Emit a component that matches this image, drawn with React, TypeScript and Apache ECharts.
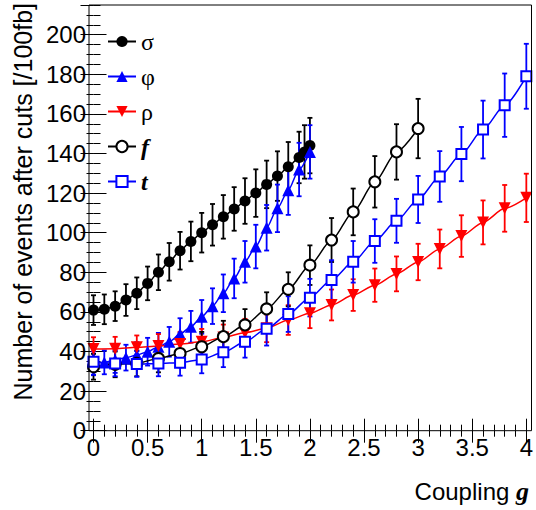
import React, { useEffect, useRef } from 'react';
import * as echarts from 'echarts';

// Coupling values
const gSigma = [0, 0.1, 0.2, 0.3, 0.4, 0.5, 0.6, 0.7, 0.8, 0.9, 1.0, 1.1, 1.2, 1.3, 1.4, 1.5, 1.6, 1.7, 1.8, 1.9, 1.95, 2.0];
const gPhi = [0, 0.1, 0.2, 0.3, 0.4, 0.5, 0.6, 0.7, 0.8, 0.9, 1.0, 1.1, 1.2, 1.3, 1.4, 1.5, 1.6, 1.7, 1.8, 1.9, 2.0];
const gRhoT = [0, 0.2, 0.4, 0.6, 0.8, 1.0, 1.2, 1.4, 1.6, 1.8, 2.0, 2.2, 2.4, 2.6, 2.8, 3.0, 3.2, 3.4, 3.6, 3.8, 4.0];
const gF = [0, 0.2, 0.4, 0.6, 0.8, 1.0, 1.2, 1.4, 1.6, 1.8, 2.0, 2.2, 2.4, 2.6, 2.8, 3.0];

// Events after cuts
const sigmaVals = [60.9, 61.3, 62.9, 66, 69.4, 74.4, 80, 85.3, 90.9, 95.6, 100, 104, 108, 112, 116, 120, 124.4, 128.6, 133.3, 138, 140.8, 144];
const sigmaErr = [7.5, 7.5, 7.5, 8, 8, 8.5, 9, 9.5, 9.5, 10, 10, 10.5, 11, 11, 11.5, 12, 12, 12.5, 12.5, 13, 13.5, 14];
const phiVals = [34, 34.5, 35.7, 36.9, 38.2, 39.9, 42.4, 44.9, 48.8, 52.5, 57.5, 62.9, 69.4, 76.9, 85.3, 93, 102.5, 112.3, 121.5, 131.9, 140.8];
const phiErr = [6, 6, 6.5, 6.5, 6.5, 7, 7, 7.5, 8, 8, 8.5, 9, 9.5, 10, 10.5, 11, 11.5, 12, 12.5, 13.5, 13.5];
const rhoVals = [41.2, 41.4, 42.1, 42.8, 43.8, 44.9, 47.1, 49.5, 51.7, 55.9, 59.3, 63.5, 68.5, 73.5, 79.2, 85.2, 91.8, 98.3, 105.2, 112.3, 117.6];
const rhoErr = [6, 6, 6, 6, 6, 6.5, 6.5, 7, 7, 7.5, 7.5, 7.8, 8, 8.4, 8.8, 9.2, 9.8, 10.5, 11.1, 11.8, 12.2];
const fVals = [32.3, 33.5, 34, 36.5, 39, 42.4, 47.5, 53.4, 61.5, 71.4, 83.6, 96.3, 110.5, 125.7, 140.8, 152.6];
const fErr = [6.5, 6.5, 6.5, 7, 7, 7.5, 8, 8, 8.4, 8.6, 10, 11.1, 11.8, 13, 14, 15];
const tVals = [34.8, 34, 33.7, 34, 34.3, 36, 39.6, 44.9, 51.5, 58.9, 67.2, 76.1, 85.3, 95.8, 106, 116.8, 128.4, 139.7, 152.1, 164.4, 179];
const tErr = [6.5, 6.5, 6.5, 6.5, 6.5, 7, 7.5, 8, 8.5, 9, 9.5, 10, 10.5, 11, 11.1, 11.9, 12.8, 13.7, 14.6, 16, 16.4];

const BLACK = '#000000';
const BLUE = '#0000ff';
const RED = '#ff0000';

function pairs(xs: number[], ys: number[]) {
  return xs.map((x, i) => [x, ys[i]]);
}
function triples(xs: number[], ys: number[], es: number[]) {
  return xs.map((x, i) => [x, ys[i], es[i]]);
}

function errRender(color: string) {
  return (params: any, api: any) => {
    const x = api.value(0);
    const y = api.value(1);
    const e = api.value(2);
    const top = api.coord([x, y + e]);
    const bot = api.coord([x, y - e]);
    const hw = 2.5;
    const style = { stroke: color, lineWidth: 1.8, fill: 'none' };
    return {
      type: 'group',
      children: [
        { type: 'line', shape: { x1: top[0], y1: top[1], x2: bot[0], y2: bot[1] }, style },
        { type: 'line', shape: { x1: top[0] - hw, y1: top[1], x2: top[0] + hw, y2: top[1] }, style },
        { type: 'line', shape: { x1: bot[0] - hw, y1: bot[1], x2: bot[0] + hw, y2: bot[1] }, style },
      ],
    };
  };
}

const SANS = 'Liberation Sans, Arial, Helvetica, sans-serif';
const SERIF = 'Liberation Serif, Times New Roman, serif';

export default function App() {
  const ref = useRef<HTMLDivElement>(null);
  useEffect(() => {
    if (!ref.current) return;
    const chart = echarts.init(ref.current, undefined, { renderer: 'svg' });

    const xBase = {
      type: 'value',
      min: 0,
      max: 4,
      splitLine: { show: false },
      axisLine: { show: false },
    };
    const yBase = {
      type: 'value',
      min: 0,
      max: 215,
      splitLine: { show: false },
      axisLine: { show: false },
    };
    const tickStyle = { color: BLACK, width: 1 };

    const mkLine = (name: string, xs: number[], ys: number[], color: string, symbol: string, size: number, rotate = 0, empty = false) => ({
      name,
      type: 'line',
      data: pairs(xs, ys),
      smooth: 0.25,
      smoothMonotone: 'x',
      symbol,
      symbolSize: size,
      symbolRotate: rotate,
      showAllSymbol: true,
      lineStyle: { color, width: 1.5 },
      itemStyle: { color, borderWidth: empty ? 1.1 : 0, borderColor: color },
      z: 3,
      xAxisIndex: 0,
      yAxisIndex: 0,
      emphasis: { disabled: true },
    });
    const mkErr = (name: string, xs: number[], ys: number[], es: number[], color: string) => ({
      name,
      type: 'custom',
      data: triples(xs, ys, es),
      renderItem: errRender(color),
      encode: { x: 0, y: 1 },
      z: 2,
      xAxisIndex: 0,
      yAxisIndex: 0,
      silent: true,
    });

    const legendText = (italic: boolean) => ({
      fontFamily: SERIF,
      fontSize: 24,
      fontStyle: italic ? 'italic' : 'normal',
      fontWeight: italic ? 'bold' : 'normal',
      color: BLACK,
    });

    chart.setOption({
      animation: false,
      backgroundColor: '#ffffff',
      grid: { left: 93.5, right: 4.5, top: 5, bottom: 79.3, containLabel: false },
      xAxis: [
        {
          ...xBase,
          position: 'bottom',
          interval: 0.5,
          axisTick: { show: true, inside: true, length: 12, lineStyle: tickStyle },
          axisLabel: { show: true, margin: 5, fontSize: 24, fontFamily: SANS, color: BLACK },
        },
        {
          ...xBase,
          position: 'bottom',
          interval: 0.1,
          axisTick: { show: true, inside: true, length: 6, lineStyle: tickStyle },
          axisLabel: { show: false },
        },
        {
          ...xBase,
          position: 'top',
          interval: 0.5,
          axisTick: { show: true, inside: true, length: 12, lineStyle: tickStyle },
          axisLabel: { show: false },
        },
        {
          ...xBase,
          position: 'top',
          interval: 0.1,
          axisTick: { show: true, inside: true, length: 6, lineStyle: tickStyle },
          axisLabel: { show: false },
        },
      ],
      yAxis: [
        {
          ...yBase,
          position: 'left',
          offset: 4.5,
          interval: 20,
          axisTick: { show: true, inside: true, length: 13, lineStyle: tickStyle },
          axisLabel: { show: true, margin: 3, fontSize: 24, fontFamily: SANS, color: BLACK, showMaxLabel: false },
        },
        {
          ...yBase,
          position: 'left',
          offset: 4.5,
          interval: 5,
          axisTick: { show: true, inside: true, length: 7, lineStyle: tickStyle },
          axisLabel: { show: false },
        },
        {
          ...yBase,
          position: 'right',
          interval: 20,
          axisTick: { show: true, inside: true, length: 13, lineStyle: tickStyle },
          axisLabel: { show: false },
        },
        {
          ...yBase,
          position: 'right',
          interval: 5,
          axisTick: { show: true, inside: true, length: 7, lineStyle: tickStyle },
          axisLabel: { show: false },
        },
      ],
      legend: {
        show: true,
        orient: 'vertical',
        left: 107,
        top: 29.5,
        padding: 0,
        itemWidth: 28,
        itemHeight: 14,
        itemGap: 11,
        selectedMode: false,
        data: [
          { name: 'σ', textStyle: legendText(false) },
          { name: 'φ', textStyle: legendText(false) },
          { name: 'ρ', textStyle: legendText(false) },
          { name: 'f', textStyle: legendText(true) },
          { name: 't', textStyle: legendText(true) },
        ],
      },
      series: [
        mkErr('σ err', gSigma, sigmaVals, sigmaErr, BLACK),
        mkErr('φ err', gPhi, phiVals, phiErr, BLUE),
        mkErr('ρ err', gRhoT, rhoVals, rhoErr, RED),
        mkErr('f err', gF, fVals, fErr, BLACK),
        mkErr('t err', gRhoT, tVals, tErr, BLUE),
        mkLine('σ', gSigma, sigmaVals, BLACK, 'circle', 11),
        mkLine('φ', gPhi, phiVals, BLUE, 'triangle', 12),
        mkLine('ρ', gRhoT, rhoVals, RED, 'triangle', 12, 180),
        mkLine('f', gF, fVals, BLACK, 'emptyCircle', 11, 0, true),
        mkLine('t', gRhoT, tVals, BLUE, 'emptyRect', 10, 0, true),
      ],
      graphic: [
        {
          type: 'rect',
          shape: { x: 89, y: 5, width: 442.5, height: 425.7 },
          style: { fill: 'none', stroke: BLACK, lineWidth: 1 },
          z: 10,
          silent: true,
        },
        {
          type: 'text',
          x: 23,
          y: 3,
          rotation: Math.PI / 2,
          style: {
            text: 'Number of events after cuts [/100fb]',
            font: `25px ${SANS}`,
            fill: BLACK,
            textAlign: 'right',
            textVerticalAlign: 'middle',
          },
          silent: true,
        },
        {
          type: 'text',
          x: 529,
          y: 491,
          style: {
            text: '{a|Coupling }{b|g}',
            textAlign: 'right',
            textVerticalAlign: 'middle',
            rich: {
              a: { fontFamily: SANS, fontSize: 24, fill: BLACK, color: BLACK },
              b: { fontFamily: SERIF, fontSize: 26, fontStyle: 'italic', fontWeight: 'bold', fill: BLACK, color: BLACK },
            },
          },
          silent: true,
        },
      ],
    });
    return () => chart.dispose();
  }, []);
  return <div ref={ref} style={{ width: 536, height: 510, position: 'absolute', left: 0, top: 0 }} />;
}
